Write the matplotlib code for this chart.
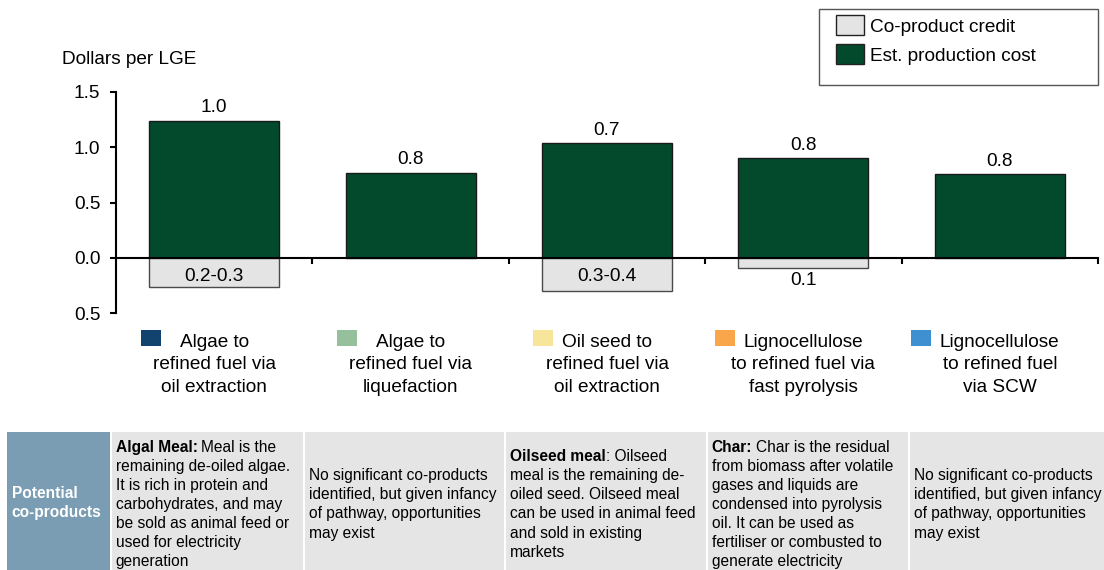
import matplotlib
matplotlib.use("Agg")
import matplotlib.pyplot as plt
from matplotlib.patches import Rectangle
from matplotlib import transforms

plt.rcParams['font.family'] = ['Liberation Sans', 'DejaVu Sans']

# ---- data -------------------------------------------------------------
pathways = [
    "Algae to\nrefined fuel via\noil extraction",
    "Algae to\nrefined fuel via\nliquefaction",
    "Oil seed to\nrefined fuel via\noil extraction",
    "Lignocellulose\nto refined fuel via\nfast pyrolysis",
    "Lignocellulose\nto refined fuel\nvia SCW",
]
pathway_colors = ["#11436e", "#96c09b", "#f7e59b", "#f9a54a", "#3e90d1"]

# gross production cost and co-product credit, dollars per LGE
production_cost = [1.24, 0.77, 1.04, 0.90, 0.76]
coproduct_credit = [0.26, 0.0, 0.30, 0.09, 0.0]
credit_labels = ["0.2-0.3", "", "0.3-0.4", "0.1", ""]

y_ticks = [-0.5, 0.0, 0.5, 1.0, 1.5]
y_tick_labels = ["0.5", "0.0", "0.5", "1.0", "1.5"]
y_title = "Dollars per LGE"
series_names = ["Co-product credit", "Est. production cost"]

table_header = ["Potential", "co-products"]
# (bold lead, rest of first line, following lines)
coproduct_notes = [
    ("Algal Meal:", " Meal is the",
     ["remaining de-oiled algae.", "It is rich in protein and",
      "carbohydrates, and may", "be sold as animal feed or",
      "used for electricity", "generation"]),
    ("", "No significant co-products",
     ["identified, but given infancy", "of pathway, opportunities",
      "may exist"]),
    ("Oilseed meal", ": Oilseed",
     ["meal is the remaining de-", "oiled seed. Oilseed meal",
      "can be used in animal feed", "and sold in existing", "markets"]),
    ("Char:", " Char is the residual",
     ["from biomass after volatile", "gases and liquids are",
      "condensed into pyrolysis", "oil. It can be used as",
      "fertiliser or combusted to", "generate electricity"]),
    ("", "No significant co-products",
     ["identified, but given infancy", "of pathway, opportunities",
      "may exist"]),
]

# ---- style ------------------------------------------------------------
COST_COLOR = "#034a2d"
CREDIT_COLOR = "#e4e4e4"
HEADER_COLOR = "#7a9db4"
CELL_COLOR = "#e5e5e5"
FS = 13.7          # chart text size (pt)
FS_TABLE = 11.2    # table text size (pt)

W, H, DPI = 1104, 570, 100


def fx(px):
    return px / W


def fy(py):
    return 1 - py / H


fig = plt.figure(figsize=(W / DPI, H / DPI), dpi=DPI)
ax = fig.add_axes([fx(116), fy(313.3), (1098 - 116) / W, (313.3 - 91.7) / H])

x = list(range(len(pathways)))
bar_w = 0.662

ax.bar(x, production_cost, width=bar_w, color=COST_COLOR,
       edgecolor="#1a1a1a", linewidth=1.0, zorder=2)
cx = [i for i, k in zip(x, coproduct_credit) if k > 0]
ck = [-k for k in coproduct_credit if k > 0]
ax.bar(cx, ck, width=bar_w, color=CREDIT_COLOR,
       edgecolor="#4a4a4a", linewidth=1.0, zorder=2)

# net cost labels above bars, credit labels under the axis
for i, (c, k) in enumerate(zip(production_cost, coproduct_credit)):
    ax.annotate(f"{c - k:.1f}", (i, c), xytext=(0, 9.1),
                textcoords="offset points", ha="center", va="center",
                fontsize=FS)
    if credit_labels[i]:
        if k >= 0.2:
            ax.annotate(credit_labels[i], (i, 0), xytext=(0, -13.2),
                        textcoords="offset points", ha="center",
                        va="center", fontsize=FS, zorder=3)
        else:
            ax.annotate(credit_labels[i], (i, -k), xytext=(0, -9.1),
                        textcoords="offset points", ha="center",
                        va="center", fontsize=FS)

ax.set_xlim(-0.5, len(pathways) - 0.5)
ax.set_ylim(-0.5, 1.5)
ax.set_yticks(y_ticks)
ax.set_yticklabels(y_tick_labels)
ax.set_xticks([i + 0.5 for i in x])
ax.tick_params(axis="x", direction="out", length=4.3, width=1.5,
               labelbottom=False)
ax.tick_params(axis="y", direction="out", length=4.3, width=1.5,
               pad=7, labelsize=FS)
for s in ("top", "right"):
    ax.spines[s].set_visible(False)
ax.spines["bottom"].set_position(("data", 0))
ax.spines["bottom"].set_linewidth(1.5)
ax.spines["left"].set_linewidth(1.5)
ax.spines["bottom"].set_zorder(4)
ax.patch.set_visible(False)

fig.text(fx(62.5), fy(60), y_title, fontsize=FS, va="center", ha="left")

# ---- series legend -----------------------------------------------------
fig.add_artist(Rectangle((fx(818.7), fy(84.5)), (1098 - 818.7) / W,
                         (84.5 - 9.3) / H, transform=fig.transFigure,
                         facecolor="white", edgecolor="#555555", lw=1.0))
for (y0, y1), col, name in zip([(15, 35), (44, 64)],
                               [CREDIT_COLOR, COST_COLOR], series_names):
    fig.add_artist(Rectangle((fx(836), fy(y1)), 28 / W, (y1 - y0) / H,
                             transform=fig.transFigure, facecolor=col,
                             edgecolor="#222222", lw=1.0))
    fig.text(fx(870), fy((y0 + y1) / 2 + 0.35 * FS * 1.389), name,
             fontsize=FS, va="baseline", ha="left")

# ---- pathway labels under the bars ------------------------------------
blend = transforms.blended_transform_factory(ax.transData, fig.transFigure)
line_centres = [340, 362.7, 385]
first_lines = []
for i, label in enumerate(pathways):
    for j, line in enumerate(label.split("\n")):
        t = fig.text(i, fy(line_centres[j] + 0.35 * FS * 1.389), line,
                     transform=blend, fontsize=FS, ha="center",
                     va="baseline")
        if j == 0:
            first_lines.append(t)

# ---- co-product table --------------------------------------------------
tbl_top, tbl_bot = 432.3, 576
edges = [7.3, 110.7, 303.7, 505.2, 706.7, 908.7, 1108]
gap = 0.9
for c in range(len(edges) - 1):
    x0 = edges[c] + (gap if c > 0 else 0)
    x1 = edges[c + 1] - gap
    fig.add_artist(Rectangle((fx(x0), fy(tbl_bot)), (x1 - x0) / W,
                             (tbl_bot - tbl_top) / H,
                             transform=fig.transFigure,
                             facecolor=HEADER_COLOR if c == 0 else CELL_COLOR,
                             edgecolor="none"))

TPX = FS_TABLE * 1.389
LINE_H = 19.1
CENTRE = 503.5

for j, line in enumerate(table_header):
    yc = 492.7 + j * 19.0
    fig.text(fx(11.7), fy(yc + 0.35 * TPX), line, color="white",
             fontweight="bold", fontsize=FS_TABLE, va="baseline", ha="left")

fig.canvas.draw()
renderer = fig.canvas.get_renderer()

# colour keys to the left of each pathway label
key_gaps = [19, 19, 9, 9, 9]
for t, col, g in zip(first_lines, pathway_colors, key_gaps):
    bb = t.get_window_extent(renderer)
    right = bb.x0 - g
    fig.add_artist(Rectangle((fx(right - 20), fy(346)), 20 / W, 16 / H,
                             transform=fig.transFigure, facecolor=col,
                             edgecolor="none"))

for c, (bold, rest, others) in enumerate(coproduct_notes):
    x_left = edges[c + 1] + gap + 4.0
    lines_n = 1 + len(others)
    y_first = CENTRE - (lines_n - 1) / 2 * LINE_H
    base = lambda k: fy(y_first + k * LINE_H + 0.35 * TPX)
    xr = x_left
    if bold:
        tb = fig.text(fx(x_left), base(0), bold, fontweight="bold",
                      fontsize=FS_TABLE, va="baseline", ha="left")
        bb = tb.get_window_extent(renderer)
        xr = bb.x1
        if rest.startswith(" "):
            xr += 0.24 * TPX
    fig.text(fx(xr), base(0), rest.strip(), fontsize=FS_TABLE,
             va="baseline", ha="left")
    for k, line in enumerate(others, start=1):
        fig.text(fx(x_left), base(k), line, fontsize=FS_TABLE,
                 va="baseline", ha="left")

fig.savefig("out.png", dpi=DPI)
